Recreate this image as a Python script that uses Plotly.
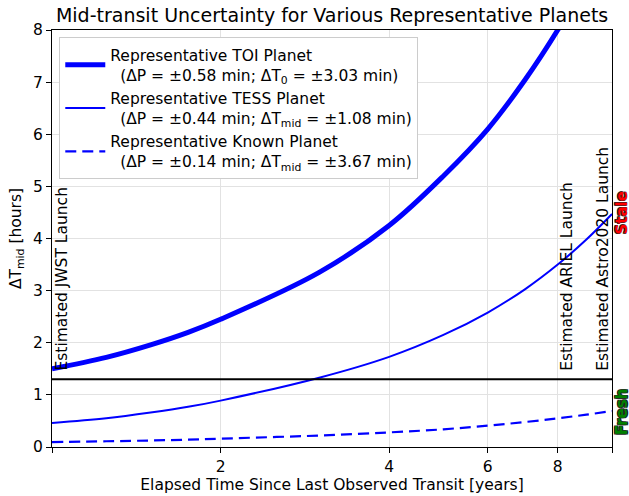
import math
import plotly.graph_objects as go

# elapsed time since last transit [years]
years = [1.0, 1.25, 1.5, 1.75, 2.0, 3.0, 4.0, 5.0, 6.0, 7.0, 8.0, 9.0, 10.0]

# mid-transit uncertainty [hours]
toi_hours = [1.50, 1.72, 1.96, 2.20, 2.45, 3.35, 4.25, 5.20, 6.10, 7.05, 8.00, 8.95, 9.90]
tess_hours = [0.46, 0.55, 0.66, 0.77, 0.89, 1.33, 1.73, 2.15, 2.58, 3.03, 3.50, 3.98, 4.47]
known_hours = [0.094, 0.11, 0.125, 0.14, 0.16, 0.22, 0.28, 0.34, 0.41, 0.48, 0.55, 0.62, 0.69]

series_names = [
    'Representative TOI Planet<br>\u00a0\u00a0(\u0394P = \u00b10.58 min; \u0394T<sub>0</sub> = \u00b13.03 min)',
    'Representative TESS Planet<br>\u00a0\u00a0(\u0394P = \u00b10.44 min; \u0394T<sub>mid</sub> = \u00b11.08 min)',
    'Representative Known Planet<br>\u00a0\u00a0(\u0394P = \u00b10.14 min; \u0394T<sub>mid</sub> = \u00b13.67 min)',
]

stale_threshold = 1.3  # hours
ariel_launch = 8.0
launch_labels = ['Estimated JWST Launch', 'Estimated ARIEL Launch', 'Estimated Astro2020 Launch']
launch_years = [1.04, 8.32, 9.63]
label_base = 1.42

x_tickvals = [1, 2, 4, 6, 8, 10]
x_ticktext = ['', '2', '4', '6', '8', '']

font = 'DejaVu Sans'
fs = 15.5

fig = go.Figure()
fig.add_trace(go.Scatter(x=years, y=toi_hours, mode='lines', name=series_names[0],
                         line=dict(color='#0000ff', width=5, shape='spline', smoothing=1.0)))
fig.add_trace(go.Scatter(x=years, y=tess_hours, mode='lines', name=series_names[1],
                         line=dict(color='#0000ff', width=2, shape='spline', smoothing=1.0)))
fig.add_trace(go.Scatter(x=years, y=known_hours, mode='lines', name=series_names[2],
                         line=dict(color='#0000ff', width=2.2, dash='11px,6px',
                                   shape='spline', smoothing=1.0)))

fig.add_hline(y=stale_threshold, line=dict(color='black', width=2))
fig.add_vline(x=math.log10(ariel_launch), line=dict(color='black', width=2.5, dash='2px,3px'))

for label, yr in zip(launch_labels, launch_years):
    fig.add_annotation(x=math.log10(yr), y=label_base, text=label, textangle=-90,
                       xanchor='center', yanchor='bottom', showarrow=False,
                       font=dict(family=font, size=fs, color='black'))

outline = '-0.6px -0.6px 0 #222, 0.6px -0.6px 0 #222, -0.6px 0.6px 0 #222, 0.6px 0.6px 0 #222'
fig.add_annotation(xref='paper', x=1.0, y=4.48, text='<b>Stale</b>', textangle=-90,
                   xanchor='left', yanchor='middle', xshift=-1, showarrow=False,
                   font=dict(family=font, size=15, color='#ff0000', shadow=outline))
fig.add_annotation(xref='paper', x=1.0, y=0.67, text='<b>Fresh</b>', textangle=-90,
                   xanchor='left', yanchor='middle', xshift=-1, showarrow=False,
                   font=dict(family=font, size=15, color='#008000', shadow=outline))

axis_common = dict(showline=True, linecolor='black', linewidth=1.2, mirror=True,
                   ticks='outside', ticklen=5, tickcolor='black',
                   gridcolor='#e2e2e2', gridwidth=1, zeroline=False, automargin=False,
                   tickfont=dict(family=font, size=fs, color='black'))

fig.update_xaxes(type='log', range=[0, 1], tickvals=x_tickvals, ticktext=x_ticktext,
                 title=dict(text='Elapsed Time Since Last Observed Transit [years]',
                            font=dict(family=font, size=fs, color='black'), standoff=4),
                 **axis_common)
fig.update_yaxes(range=[0, 8], dtick=1,
                 title=dict(text='\u0394T<sub>mid</sub> [hours]',
                            font=dict(family=font, size=fs, color='black'), standoff=7),
                 **axis_common)

fig.update_layout(
    width=629, height=496,
    margin=dict(l=52, r=17, t=30, b=49),
    paper_bgcolor='white', plot_bgcolor='white',
    title=dict(text='Mid-transit Uncertainty for Various Representative Planets',
               x=0.528, xanchor='center', y=0.97, yanchor='middle',
               font=dict(family=font, size=19, color='black')),
    legend=dict(x=0.013, y=0.983, xanchor='left', yanchor='top',
                bgcolor='white', bordercolor='#cccccc', borderwidth=1,
                font=dict(family=font, size=fs, color='black'),
                itemwidth=40, valign='middle'),
    showlegend=True,
)

fig.write_html('out.html', config={'displayModeBar': False},
               post_script="document.body.style.margin='0';")
